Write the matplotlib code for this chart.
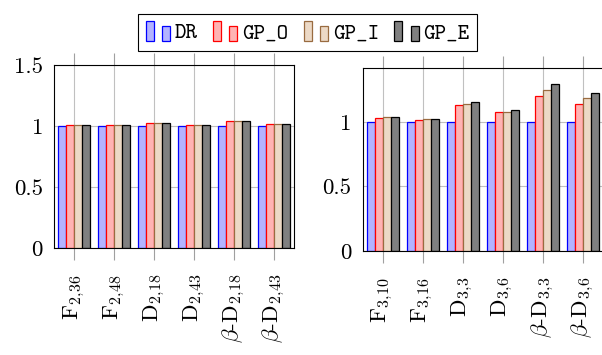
import matplotlib
matplotlib.use('Agg')
import matplotlib.pyplot as plt
import numpy as np
from matplotlib.patches import Rectangle, Patch
from matplotlib.legend_handler import HandlerBase

plt.rcParams['font.family'] = ['cmr10', 'DejaVu Serif']
plt.rcParams['mathtext.fontset'] = 'cm'
plt.rcParams['axes.unicode_minus'] = False
plt.rcParams['axes.formatter.use_mathtext'] = True

# 数据：两组实例，每组四个方法
series_names = ['DR', 'GP_O', 'GP_I', 'GP_E']
left_labels = [r'F$_{2,\!36}$', r'F$_{2,\!48}$', r'D$_{2,\!18}$', r'D$_{2,\!43}$',
               r'$\beta$-D$_{2,\!18}$', r'$\beta$-D$_{2,\!43}$']
left_dr = [1.0, 1.0, 1.0, 1.0, 1.0, 1.0]
left_gp_o = [1.008, 1.007, 1.025, 1.008, 1.040, 1.015]
left_gp_i = [1.008, 1.007, 1.025, 1.008, 1.040, 1.014]
left_gp_e = [1.008, 1.007, 1.025, 1.008, 1.041, 1.015]

right_labels = [r'F$_{3,\!10}$', r'F$_{3,\!16}$', r'D$_{3,\!3}$', r'D$_{3,\!6}$',
                r'$\beta$-D$_{3,\!3}$', r'$\beta$-D$_{3,\!6}$']
right_dr = [1.0, 1.0, 1.0, 1.0, 1.0, 1.0]
right_gp_o = [1.028, 1.018, 1.132, 1.075, 1.203, 1.139]
right_gp_i = [1.041, 1.023, 1.140, 1.080, 1.250, 1.182]
right_gp_e = [1.041, 1.023, 1.158, 1.096, 1.292, 1.224]

left_yticks = [0, 0.5, 1, 1.5]
left_yticklabels = ['0', '0.5', '1', '1.5']
right_yticks = [0, 0.5, 1]
right_yticklabels = ['0', '0.5', '1']

# 颜色（边框，填充）
edge_colors = ['blue', 'red', (0.6, 0.42, 0.25), 'black']
face_colors = [(0.7, 0.7, 1.0), (1.0, 0.7, 0.7), (0.925, 0.85, 0.775), (0.5, 0.5, 0.5)]

bar_w = 0.2
offsets = [-0.3, -0.1, 0.1, 0.3]


def draw_panel(ax, labels, values, ymax, yticks, yticklabels):
    x = np.arange(len(labels))
    for k, vals in enumerate(values):
        ax.bar(x + offsets[k], vals, width=bar_w, color=face_colors[k],
               edgecolor=edge_colors[k], linewidth=0.9, zorder=2)
    ax.set_xlim(-0.5, len(labels) - 0.5)
    ax.set_ylim(0, ymax)
    ax.set_xticks(x)
    ax.set_xticklabels(labels, rotation=90, ha='center', va='top')
    ax.set_yticks(yticks)
    ax.set_yticklabels(yticklabels)
    ax.set_axisbelow(True)
    ax.grid(True, color='#c0c0c0', linewidth=0.8, zorder=0)
    ax.tick_params(axis='x', direction='out', top=True, length=8.3, width=0.8,
                   color='#a0a0a0', labelsize=16.5, pad=10)
    ax.tick_params(axis='y', length=0, labelsize=16.5, pad=8)
    for s in ax.spines.values():
        s.set_linewidth(0.8)
        s.set_color('black')


fig = plt.figure(figsize=(6.02, 3.55), dpi=100)
ax1 = fig.add_axes([54 / 602, 107 / 355, 240 / 602, 183 / 355])
ax2 = fig.add_axes([362.7 / 602, 104 / 355, 240 / 602, 183.3 / 355])

draw_panel(ax1, left_labels, [left_dr, left_gp_o, left_gp_i, left_gp_e],
           1.5, left_yticks, left_yticklabels)
draw_panel(ax2, right_labels, [right_dr, right_gp_o, right_gp_i, right_gp_e],
           1.42, right_yticks, right_yticklabels)


# 图例：每项画两根小柱子
class TwoBarHandler(HandlerBase):
    def create_artists(self, legend, orig_handle, xdescent, ydescent,
                       width, height, fontsize, trans):
        w = width / 3
        kw = dict(facecolor=orig_handle.get_facecolor(),
                  edgecolor=orig_handle.get_edgecolor(), linewidth=0.9,
                  transform=trans)
        r1 = Rectangle((-xdescent, -ydescent), w, height, **kw)
        r2 = Rectangle((-xdescent + 2 * w, -ydescent), w, height * 0.76, **kw)
        return [r1, r2]


handles = [Patch(facecolor=face_colors[k], edgecolor=edge_colors[k]) for k in range(4)]
leg = fig.legend(handles, series_names, loc='upper center', bbox_to_anchor=(0.511, 0.992),
                 ncol=4, handler_map={Patch: TwoBarHandler()},
                 prop={'family': ['cmtt10', 'Liberation Mono'], 'size': 15.8},
                 handlelength=1.1, handleheight=1.0, handletextpad=0.23,
                 columnspacing=0.7, borderpad=0.33, fancybox=False,
                 framealpha=1, edgecolor='black')
leg.get_frame().set_linewidth(0.8)

fig.savefig('out.png', dpi=100)
